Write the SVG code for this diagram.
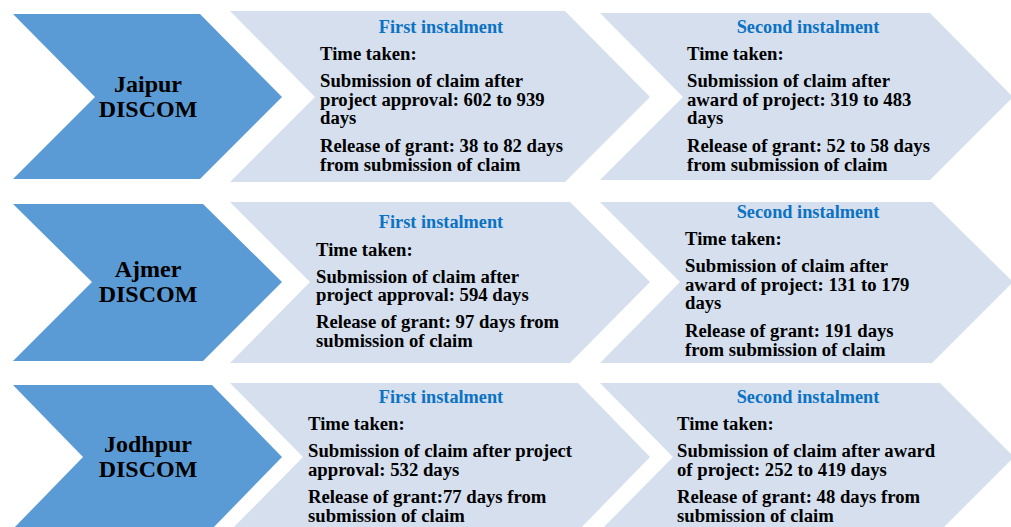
<svg xmlns="http://www.w3.org/2000/svg" width="1011" height="527" viewBox="0 0 1011 527">
<style>
.dark{fill:#5B9BD5}
.light{fill:#D5DFEE}
.hd{font-family:"Liberation Serif","Times New Roman",serif;font-weight:bold;font-size:24px;fill:#000;text-anchor:middle}
.ti{font-family:"Liberation Serif","Times New Roman",serif;font-weight:bold;font-size:18.3px;fill:#0B72C4;text-anchor:middle}
.tx{font-family:"Liberation Serif","Times New Roman",serif;font-weight:bold;font-size:18.7px;fill:#000}
</style>
<rect width="1011" height="527" fill="#fff"/>
<g id="jaipur">
<polygon class="dark" points="13,14 200,14 282,97 200,179 13,179 95,97"/>
<text class="hd" x="148" y="92">Jaipur</text>
<text class="hd" x="148" y="117">DISCOM</text>
</g>
<g id="jaipur-first">
<polygon class="light" points="230,11 565,11 650,97 565,182 230,182 315,97"/>
<text class="ti" x="441" y="33">First instalment</text>
<text class="tx" x="320" y="60">Time taken:</text>
<text class="tx" x="320" y="87">Submission of claim after</text>
<text class="tx" x="320" y="106">project approval: 602 to 939</text>
<text class="tx" x="320" y="124">days</text>
<text class="tx" x="320" y="152">Release of grant: 38 to 82 days</text>
<text class="tx" x="320" y="171">from submission of claim</text>
</g>
<g id="jaipur-second">
<polygon class="light" points="600,13 930,13 1013,97 930,180 600,180 683,97"/>
<text class="ti" x="808" y="33">Second instalment</text>
<text class="tx" x="687" y="60">Time taken:</text>
<text class="tx" x="687" y="87">Submission of claim after</text>
<text class="tx" x="687" y="106">award of project: 319 to 483</text>
<text class="tx" x="687" y="124">days</text>
<text class="tx" x="687" y="152">Release of grant: 52 to 58 days</text>
<text class="tx" x="687" y="171">from submission of claim</text>
</g>
<g id="ajmer">
<polygon class="dark" points="13,204 203,204 282,282 203,361 13,361 92,282"/>
<text class="hd" x="148" y="277">Ajmer</text>
<text class="hd" x="148" y="302">DISCOM</text>
</g>
<g id="ajmer-first">
<polygon class="light" points="230,202 570,202 650,282 570,363 230,363 310,282"/>
<text class="ti" x="441" y="228">First instalment</text>
<text class="tx" x="316" y="256">Time taken:</text>
<text class="tx" x="316" y="283">Submission of claim after</text>
<text class="tx" x="316" y="301">project approval: 594 days</text>
<text class="tx" x="316" y="328">Release of grant: 97 days from</text>
<text class="tx" x="316" y="347">submission of claim</text>
</g>
<g id="ajmer-second">
<polygon class="light" points="600,202 932,202 1013,282 932,363 600,363 680,282"/>
<text class="ti" x="808" y="218">Second instalment</text>
<text class="tx" x="685" y="245">Time taken:</text>
<text class="tx" x="685" y="272">Submission of claim after</text>
<text class="tx" x="685" y="291">award of project: 131 to 179</text>
<text class="tx" x="685" y="309">days</text>
<text class="tx" x="685" y="337">Release of grant: 191 days</text>
<text class="tx" x="685" y="356">from submission of claim</text>
</g>
<g id="jodhpur">
<polygon class="dark" points="13,385 212,385 282,457 212,529 13,529 83,457"/>
<text class="hd" x="148" y="452">Jodhpur</text>
<text class="hd" x="148" y="477">DISCOM</text>
</g>
<g id="jodhpur-first">
<polygon class="light" points="230,383 578,383 650,457 578,531 230,531 303,457"/>
<text class="ti" x="441" y="403">First instalment</text>
<text class="tx" x="308" y="430">Time taken:</text>
<text class="tx" x="308" y="457">Submission of claim after project</text>
<text class="tx" x="308" y="476">approval: 532 days</text>
<text class="tx" x="308" y="503">Release of grant:77 days from</text>
<text class="tx" x="308" y="522">submission of claim</text>
</g>
<g id="jodhpur-second">
<polygon class="light" points="600,383 940,383 1014,457 940,531 600,531 673,457"/>
<text class="ti" x="808" y="403">Second instalment</text>
<text class="tx" x="677" y="430">Time taken:</text>
<text class="tx" x="677" y="457">Submission of claim after award</text>
<text class="tx" x="677" y="476">of project: 252 to 419 days</text>
<text class="tx" x="677" y="503">Release of grant: 48 days from</text>
<text class="tx" x="677" y="522">submission of claim</text>
</g>
<g id="connectors"/>
</svg>
